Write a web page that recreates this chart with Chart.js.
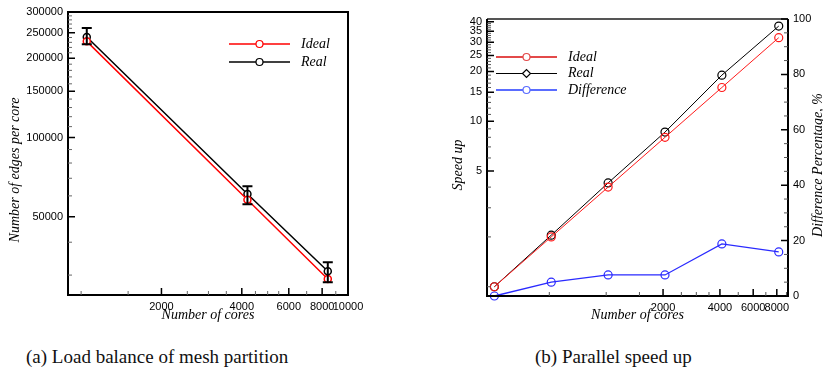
<!DOCTYPE html>
<html>
<head>
<meta charset="utf-8">
<script src="https://cdn.jsdelivr.net/npm/chart.js@4/dist/chart.umd.min.js"></script>
<style>
  body { margin: 0; background: #fff; width: 823px; height: 373px; position: relative; overflow: hidden; }
  .box { position: absolute; top: 0; }
  .cap { position: absolute; top: 347px; font: 19px "Liberation Serif", serif; line-height: 20px; white-space: nowrap; color: #111; }
</style>
</head>
<body>
<div class="box" style="left:0"><canvas id="balance" width="380" height="330"></canvas></div>
<div class="box" style="left:430px"><canvas id="speedup" width="393" height="330"></canvas></div>
<div class="cap" style="left:26px">(a) Load balance of mesh partition</div>
<div class="cap" style="left:535px">(b) Parallel speed up</div>
<script>
// (a) load balance
const balanceCores = [1050, 4200, 8400];
const idealEdges = [232000, 58000, 29000];
const realEdges = [241000, 61000, 31000];
const realEdgesLow = [226000, 55800, 28200];
const realEdgesHigh = [261000, 65300, 33600];
const balanceXTicks = [2000, 4000, 6000, 8000, 10000];
const balanceXMinor = [1000, 1500, 2500, 3000, 3500, 4500, 5000, 5500, 7000, 9000];
const balanceYTicks = [50000, 100000, 150000, 200000, 250000, 300000];

// (b) speed up
const speedCores = [256, 512, 1024, 2048, 4096, 8192];
const idealSpeedup = [1, 2, 4, 8, 16, 32];
const realSpeedup = [1, 2.05, 4.24, 8.6, 19.0, 37.6];
const diffPercent = [0, 5, 7.6, 7.6, 18.8, 15.9];
const speedXTicks = [2000, 4000, 6000, 8000];
const speedXMinor = [500, 1000, 1500, 2500, 3000, 3500, 5000, 7000, 9000];
const speedYTicks = [5, 10, 15, 20, 25, 30, 35, 40];
const diffTicks = [0, 20, 40, 60, 80, 100];

const tickFont = { family: 'Liberation Sans', size: 11 };
const titleFont = 'italic 14px "Liberation Serif"';

// minor tick lists (every 10000 / every 1 / every 5, without the labelled ones)
const balanceYMinor = [];
for (let v = 30000; v < 300000; v += 10000) if (!balanceYTicks.includes(v)) balanceYMinor.push(v);
const speedYMinor = [];
for (let v = 1; v < 41; v++) if (!speedYTicks.includes(v)) speedYMinor.push(v);
const diffMinor = [];
for (let v = 5; v < 100; v += 5) if (!diffTicks.includes(v)) diffMinor.push(v);

const pts = (xs, ys) => xs.map((x, i) => ({ x: x, y: ys[i] }));

function inwardTicks(ctx, scale, values, len, side, color, width) {
  const a = scale.chart.chartArea;
  ctx.save();
  ctx.strokeStyle = color;
  ctx.lineWidth = width;
  ctx.beginPath();
  values.forEach(v => {
    const p = scale.getPixelForValue(v);
    if (side === 'bottom') { ctx.moveTo(p, a.bottom); ctx.lineTo(p, a.bottom - len); }
    if (side === 'left') { ctx.moveTo(a.left, p); ctx.lineTo(a.left + len, p); }
    if (side === 'right') { ctx.moveTo(a.right, p); ctx.lineTo(a.right - len, p); }
  });
  ctx.stroke();
  ctx.restore();
}

function text(ctx, str, x, y, rot, font) {
  ctx.save();
  ctx.translate(x, y);
  ctx.rotate(rot);
  ctx.font = font;
  ctx.fillStyle = '#000';
  ctx.textAlign = 'center';
  ctx.textBaseline = 'middle';
  ctx.fillText(str, 0, 0);
  ctx.restore();
}

function legend(ctx, datasets, x0, x1, y0, dy, font) {
  datasets.forEach((ds, i) => {
    const y = y0 + i * dy, mx = (x0 + x1) / 2;
    const col = ds.legendColor || ds.borderColor;
    ctx.save();
    ctx.strokeStyle = col;
    ctx.lineWidth = ds.legendWidth || 1.5;
    ctx.beginPath(); ctx.moveTo(x0, y); ctx.lineTo(x1, y); ctx.stroke();
    ctx.fillStyle = '#fff';
    ctx.lineWidth = 1.2;
    ctx.beginPath();
    if (ds.legendMarker === 'diamond') {
      ctx.moveTo(mx - 4, y); ctx.lineTo(mx, y - 4); ctx.lineTo(mx + 4, y); ctx.lineTo(mx, y + 4); ctx.closePath();
    } else {
      ctx.arc(mx, y, 3.5, 0, Math.PI * 2);
    }
    ctx.fill(); ctx.stroke();
    ctx.font = font;
    ctx.fillStyle = '#000';
    ctx.textAlign = 'left';
    ctx.textBaseline = 'middle';
    ctx.fillText(ds.label, x1 + 11, y);
    ctx.restore();
  });
}

const balanceDecor = {
  id: 'balanceDecor',
  afterDatasetsDraw(chart) {
    const ctx = chart.ctx, a = chart.chartArea, xs = chart.scales.x, ys = chart.scales.y;
    // error bars on the measured series
    ctx.save();
    ctx.strokeStyle = '#000';
    ctx.lineWidth = 2;
    balanceCores.forEach((c, i) => {
      const px = xs.getPixelForValue(c);
      const top = ys.getPixelForValue(realEdgesHigh[i]);
      const bot = ys.getPixelForValue(realEdgesLow[i]);
      ctx.beginPath();
      ctx.moveTo(px, top); ctx.lineTo(px, bot);
      ctx.moveTo(px - 5, top); ctx.lineTo(px + 5, top);
      ctx.moveTo(px - 5, bot); ctx.lineTo(px + 5, bot);
      ctx.stroke();
    });
    ctx.restore();
    // frame
    ctx.save();
    ctx.strokeStyle = '#000';
    ctx.lineWidth = 2;
    ctx.strokeRect(a.left, a.top, a.right - a.left, a.bottom - a.top);
    ctx.restore();
    inwardTicks(ctx, xs, balanceXTicks, 7, 'bottom', '#000', 1.5);
    inwardTicks(ctx, xs, balanceXMinor, 4, 'bottom', '#666', 1);
    inwardTicks(ctx, ys, balanceYTicks, 7, 'left', '#000', 1.5);
    inwardTicks(ctx, ys, balanceYMinor, 4, 'left', '#666', 1);
    text(ctx, 'Number of cores', (a.left + a.right) / 2, 315, 0, titleFont);
    text(ctx, 'Number of edges per core', 15, 170, -Math.PI / 2, titleFont);
    legend(ctx, chart.data.datasets, 229, 290, 44, 18, 'italic 14px "Liberation Serif"');
  }
};

const speedDecor = {
  id: 'speedDecor',
  afterDatasetsDraw(chart) {
    const ctx = chart.ctx, a = chart.chartArea, xs = chart.scales.x, ys = chart.scales.y, y2 = chart.scales.y2;
    ctx.save();
    ctx.lineWidth = 2;
    ctx.strokeStyle = '#555';
    ctx.beginPath(); ctx.moveTo(a.left, a.top); ctx.lineTo(a.right, a.top); ctx.stroke();
    ctx.strokeStyle = '#000';
    ctx.beginPath();
    ctx.moveTo(a.left, a.top); ctx.lineTo(a.left, a.bottom); ctx.lineTo(a.right, a.bottom); ctx.lineTo(a.right, a.top);
    ctx.stroke();
    ctx.restore();
    inwardTicks(ctx, xs, speedXTicks, 7, 'bottom', '#000', 1.5);
    inwardTicks(ctx, xs, speedXMinor, 4, 'bottom', '#555', 1);
    inwardTicks(ctx, ys, speedYTicks, 7, 'left', '#000', 1.5);
    inwardTicks(ctx, ys, speedYMinor, 4, 'left', '#555', 1);
    inwardTicks(ctx, y2, diffTicks, 7, 'right', '#000', 1.5);
    inwardTicks(ctx, y2, diffMinor, 4, 'right', '#555', 1);
    text(ctx, 'Number of cores', (a.left + a.right) / 2, 315, 0, titleFont);
    text(ctx, 'Speed up', 28, 165, -Math.PI / 2, titleFont);
    text(ctx, 'Difference Percentage, %', 388, 165, -Math.PI / 2, titleFont);
    legend(ctx, chart.data.datasets, 66, 127, 57, 16.5, 'italic 14px "Liberation Serif"');
  }
};

function fixedTicks(list) {
  return scale => { scale.ticks = list.map(v => ({ value: v })); };
}

function axis(extra) {
  return Object.assign({
    grid: { display: false, drawTicks: false },
    border: { display: false },
    ticks: { autoSkip: false, maxRotation: 0, padding: 5, color: '#000', font: tickFont, callback: v => String(v) }
  }, extra);
}

new Chart(document.getElementById('balance'), {
  type: 'scatter',
  data: {
    datasets: [
      { label: 'Ideal', data: pts(balanceCores, idealEdges), showLine: true, borderColor: '#ff0000', borderWidth: 1.5,
        pointRadius: 3.5, pointBorderWidth: 1.5, pointBackgroundColor: '#fff', pointBorderColor: '#ff0000' },
      { label: 'Real', data: pts(balanceCores, realEdges), showLine: true, borderColor: '#000', borderWidth: 1.5,
        pointRadius: 3.5, pointBorderWidth: 1.5, pointBackgroundColor: '#fff', pointBorderColor: '#000' }
    ]
  },
  options: {
    responsive: false,
    animation: false,
    layout: { padding: { top: 12, right: 32, left: 0, bottom: 0 } },
    plugins: { legend: { display: false }, tooltip: { enabled: false } },
    scales: {
      x: axis({ type: 'logarithmic', position: 'bottom', min: 893, max: 10000,
        afterBuildTicks: fixedTicks(balanceXTicks), afterFit: s => { s.height = 35; } }),
      y: axis({ type: 'logarithmic', position: 'left', min: 25200, max: 300000,
        afterBuildTicks: fixedTicks(balanceYTicks), afterFit: s => { s.width = 68; } })
    }
  },
  plugins: [balanceDecor]
});

new Chart(document.getElementById('speedup'), {
  type: 'scatter',
  data: {
    datasets: [
      { label: 'Ideal', data: pts(speedCores, idealSpeedup), yAxisID: 'y', showLine: true, borderColor: '#ff1a1a',
        legendColor: '#e34a4a', legendWidth: 2,
        borderWidth: 1, pointRadius: 4, pointBorderWidth: 1.2, pointBackgroundColor: 'rgba(255,255,255,0)', pointBorderColor: '#ff1a1a', clip: false },
      { label: 'Real', data: pts(speedCores, realSpeedup), yAxisID: 'y', showLine: true, borderColor: '#000',
        legendMarker: 'diamond', legendWidth: 1.2,
        borderWidth: 1, pointRadius: 4, pointBorderWidth: 1.2, pointBackgroundColor: 'rgba(255,255,255,0)', pointBorderColor: '#000', clip: false },
      { label: 'Difference', data: pts(speedCores, diffPercent), yAxisID: 'y2', showLine: true, borderColor: '#2a2aff',
        legendColor: '#5a6cff', legendWidth: 2,
        borderWidth: 1.3, pointRadius: 4, pointBorderWidth: 1.2, pointBackgroundColor: 'rgba(255,255,255,0)', pointBorderColor: '#2a2aff', clip: false }
    ]
  },
  options: {
    responsive: false,
    animation: false,
    layout: { padding: { top: 19, right: 0, left: 0, bottom: 0 } },
    plugins: { legend: { display: false }, tooltip: { enabled: false } },
    scales: {
      x: axis({ type: 'logarithmic', position: 'bottom', min: 234, max: 9170,
        afterBuildTicks: fixedTicks(speedXTicks), afterFit: s => { s.height = 34; } }),
      y: axis({ type: 'logarithmic', position: 'left', min: 0.879, max: 41.5,
        afterBuildTicks: fixedTicks(speedYTicks), afterFit: s => { s.width = 57; } }),
      y2: axis({ type: 'linear', position: 'right', min: 0, max: 100,
        afterBuildTicks: fixedTicks(diffTicks), afterFit: s => { s.width = 35; } })
    }
  },
  plugins: [speedDecor]
});
</script>
</body>
</html>
